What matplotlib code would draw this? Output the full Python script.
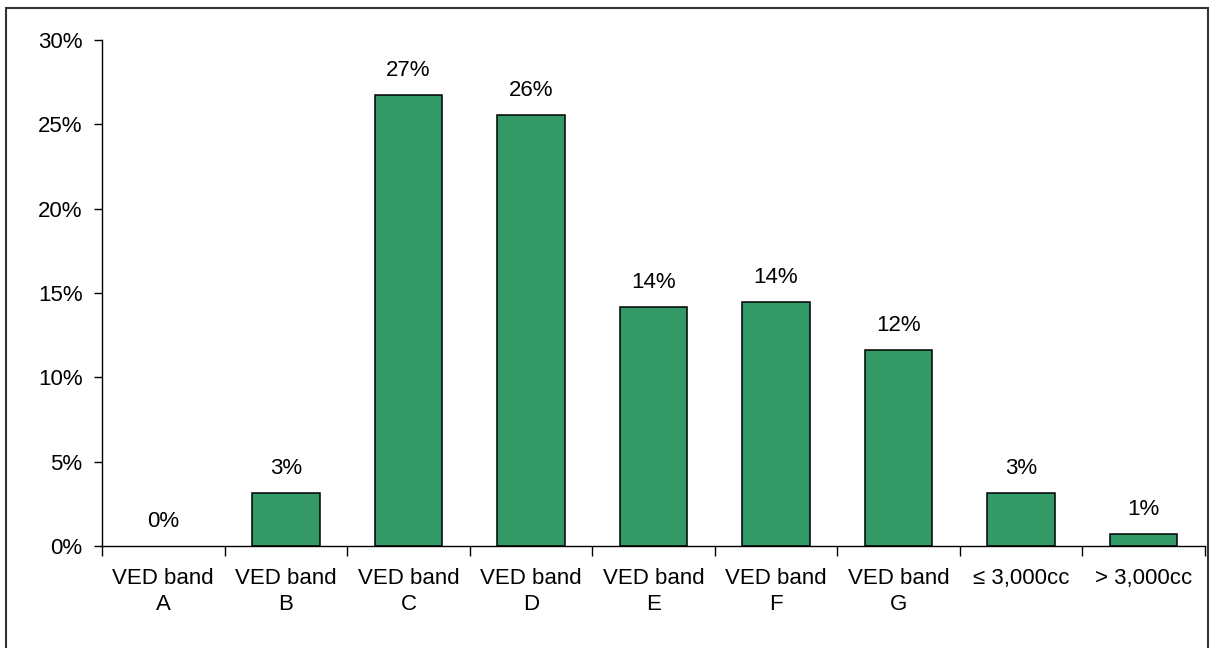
import numpy as np
import matplotlib
matplotlib.use("Agg")
import matplotlib.pyplot as plt
from matplotlib.patches import Rectangle
from matplotlib.ticker import FuncFormatter, FixedLocator

plt.rcParams['font.family'] = ['Liberation Sans', 'DejaVu Sans']

# Share of vehicles by band (fraction)
categories = ["VED band\nA", "VED band\nB", "VED band\nC", "VED band\nD",
              "VED band\nE", "VED band\nF", "VED band\nG",
              "\u2264 3,000cc", "> 3,000cc"]
shares = [0.0, 0.0314, 0.2675, 0.2555, 0.1417, 0.1446, 0.116, 0.0314, 0.0071]
y_ticks = [0.0, 0.05, 0.10, 0.15, 0.20, 0.25, 0.30]

bar_color = "#339966"

fig = plt.figure(figsize=(12.1, 6.48), dpi=100)
ax = fig.add_axes([102 / 1210, 1 - 546 / 648, 1103 / 1210, 506 / 648])

x = np.arange(len(categories))
bars = ax.bar(x, shares, width=0.55, color=bar_color, edgecolor="black", linewidth=1.1)

# value labels above bars
for bar, v in zip(bars, shares):
    if v == 0:
        bar.set_linewidth(0)  # empty band: no outline on the axis
    ax.annotate(f"{v * 100:.0f}%", (bar.get_x() + bar.get_width() / 2, bar.get_height()),
                xytext=(0, 10), textcoords="offset points",
                ha="center", va="bottom", fontsize=16)

ax.set_xlim(-0.5, len(categories) - 0.5)
ax.set_ylim(0, 0.30)
ax.set_yticks(y_ticks)
ax.yaxis.set_major_formatter(FuncFormatter(lambda v, p: f"{v * 100:.0f}%"))
ax.tick_params(axis="y", length=6, width=1, pad=8, labelsize=16, direction="out")

# category labels at centres, tick marks at boundaries
ax.set_xticks(x)
ax.set_xticklabels(categories, fontsize=16, linespacing=1.3)
ax.tick_params(axis="x", which="major", length=0, pad=16)
ax.xaxis.set_minor_locator(FixedLocator(np.arange(-0.5, len(categories), 1.0)))
ax.tick_params(axis="x", which="minor", length=7, width=1, direction="out")

for side in ["top", "right"]:
    ax.spines[side].set_visible(False)
for side in ["left", "bottom"]:
    ax.spines[side].set_linewidth(1)
    ax.spines[side].set_color("black")

# outer chart border
fig.patches.append(Rectangle((6 / 1210, -0.05), 1202 / 1210, 1.05 - 8 / 648,
                             transform=fig.transFigure, fill=False,
                             edgecolor="#333333", linewidth=1.5))

fig.savefig("out.png", dpi=100)
